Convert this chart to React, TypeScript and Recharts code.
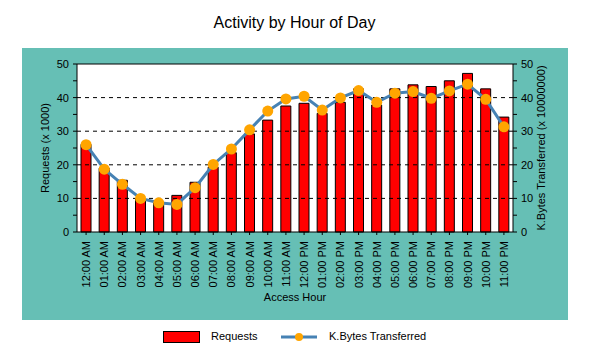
import {
  Bar,
  CartesianGrid,
  ComposedChart,
  Line,
  ReferenceLine,
  XAxis,
  YAxis,
} from "recharts";

const hours = [
  "12:00 AM", "01:00 AM", "02:00 AM", "03:00 AM", "04:00 AM", "05:00 AM",
  "06:00 AM", "07:00 AM", "08:00 AM", "09:00 AM", "10:00 AM", "11:00 AM",
  "12:00 PM", "01:00 PM", "02:00 PM", "03:00 PM", "04:00 PM", "05:00 PM",
  "06:00 PM", "07:00 PM", "08:00 PM", "09:00 PM", "10:00 PM", "11:00 PM",
];

const requests = [
  26.1, 19.0, 15.4, 9.9, 8.7, 10.9, 14.8, 19.3, 23.6, 29.2, 33.3, 37.5,
  38.3, 35.3, 38.6, 42.6, 37.8, 42.6, 43.8, 43.3, 45.0, 47.2, 42.6, 34.2,
];

const kbytes = [
  26.0, 18.7, 14.2, 10.0, 8.7, 8.2, 13.2, 20.1, 24.7, 30.4, 36.0, 39.6,
  40.4, 36.3, 39.9, 42.1, 38.6, 41.3, 41.8, 39.8, 42.0, 44.0, 39.5, 31.3,
];

const axisTicks = [0, 5, 10, 15, 20, 25, 30, 35, 40, 45, 50];
const gridValues = [10, 20, 30, 40];

const data = hours.map((hour, i) => ({
  hour,
  requests: requests[i],
  kbytes: kbytes[i],
}));

const FONT = "'Liberation Sans', Arial, sans-serif";
const TEAL = "#66BFB5";

const HourTick = (props: any) => {
  const { x, y, payload } = props;
  return (
    <g transform={`translate(${x},${y})`}>
      <text
        transform="rotate(-90)"
        x={-4}
        y={0}
        dy={4}
        textAnchor="end"
        fontSize={11}
        fontFamily={FONT}
        fill="#000"
      >
        {payload.value}
      </text>
    </g>
  );
};

const tickLabel = (v: number) => (v % 10 === 0 ? String(v) : "");

export default function App() {
  return (
    <div
      style={{
        position: "absolute",
        left: 0,
        top: 0,
        width: 589,
        height: 353,
        background: "#fff",
        fontFamily: FONT,
      }}
    >
      <div
        style={{
          position: "absolute",
          left: 0,
          top: 14,
          width: 589,
          textAlign: "center",
          fontSize: 16,
          color: "#000",
        }}
      >
        Activity by Hour of Day
      </div>
      <div
        style={{
          position: "absolute",
          left: 22,
          top: 48,
          width: 546,
          height: 272,
          background: TEAL,
        }}
      />
      <div style={{ position: "absolute", left: 0, top: 0 }}>
        <ComposedChart
          width={589}
          height={353}
          data={data}
          margin={{ top: 64, right: 36, left: 37, bottom: 51 }}
          barCategoryGap={0}
        >
          <CartesianGrid
            yAxisId="left"
            fill="#fff"
            horizontal={false}
            vertical={false}
          />
          {gridValues.map((v) => (
            <ReferenceLine
              key={v}
              yAxisId="left"
              y={v}
              stroke="#000"
              strokeDasharray="4 4"
            />
          ))}
          <ReferenceLine yAxisId="left" y={50} stroke="#000" />
          <XAxis
            dataKey="hour"
            height={70}
            interval={0}
            tick={<HourTick />}
            tickSize={3}
            axisLine={{ stroke: "#000" }}
            tickLine={{ stroke: "#000" }}
            label={{
              value: "Access Hour",
              position: "insideBottom",
              offset: 1,
              fontSize: 11,
              fill: "#000",
              fontFamily: FONT,
            }}
          />
          <YAxis
            yAxisId="left"
            width={40}
            domain={[0, 50]}
            ticks={axisTicks}
            tickFormatter={tickLabel}
            interval={0}
            tickSize={4}
            tickMargin={4}
            axisLine={{ stroke: "#000" }}
            tickLine={{ stroke: "#000" }}
            tick={{ fontSize: 11, fill: "#000", fontFamily: FONT }}
            label={{
              value: "Requests (x 1000)",
              angle: -90,
              position: "center",
              dx: -12,
              fontSize: 11,
              fill: "#000",
              fontFamily: FONT,
            }}
          />
          <YAxis
            yAxisId="right"
            orientation="right"
            width={40}
            domain={[0, 50]}
            ticks={axisTicks}
            tickFormatter={tickLabel}
            interval={0}
            tickSize={4}
            tickMargin={4}
            axisLine={{ stroke: "#000" }}
            tickLine={{ stroke: "#000" }}
            tick={{ fontSize: 11, fill: "#000", fontFamily: FONT }}
            label={{
              value: "K.Bytes Transferred (x 10000000)",
              angle: -90,
              position: "center",
              dx: 8,
              fontSize: 11,
              fill: "#000",
              fontFamily: FONT,
            }}
          />
          <Bar
            yAxisId="left"
            dataKey="requests"
            fill="#FF0000"
            stroke="#000"
            strokeWidth={1}
            barSize={10}
            isAnimationActive={false}
          />
          <Line
            yAxisId="right"
            dataKey="kbytes"
            type="linear"
            stroke="#4682B4"
            strokeWidth={3}
            dot={{ r: 5.5, fill: "#FFA500", stroke: "none" }}
            activeDot={false}
            isAnimationActive={false}
          />
        </ComposedChart>
      </div>
      <div
        style={{
          position: "absolute",
          left: 163,
          top: 331,
          width: 35,
          height: 10,
          background: "#FF0000",
          border: "1px solid #000",
        }}
      />
      <div style={{ position: "absolute", left: 211, top: 330, fontSize: 11 }}>
        Requests
      </div>
      <svg
        style={{ position: "absolute", left: 280, top: 330 }}
        width={38}
        height={14}
      >
        <line x1={1} y1={7} x2={37} y2={7} stroke="#4682B4" strokeWidth={3} />
        <circle cx={19} cy={7} r={4} fill="#FFA500" />
      </svg>
      <div style={{ position: "absolute", left: 329, top: 330, fontSize: 11 }}>
        K.Bytes Transferred
      </div>
    </div>
  );
}
